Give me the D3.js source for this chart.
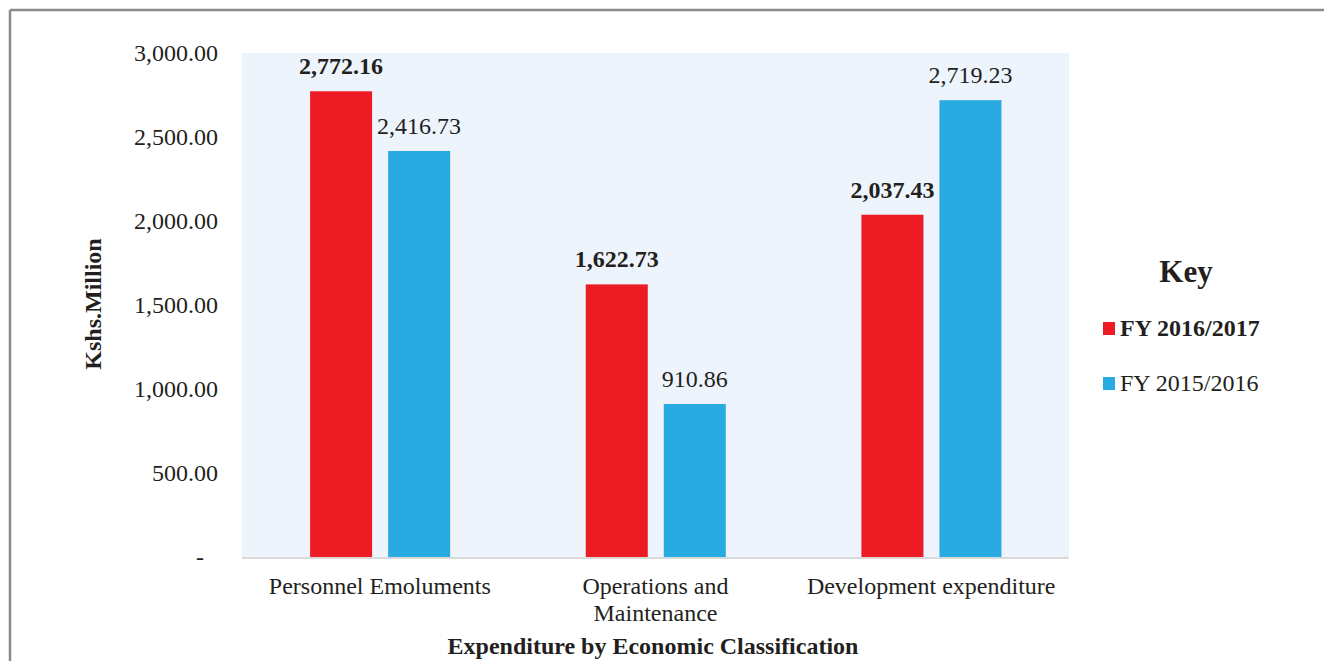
<!DOCTYPE html>
<html><head><meta charset="utf-8">
<script src="https://cdn.jsdelivr.net/npm/d3@7"></script>
<style>
html,body{margin:0;padding:0;background:#fff;}
text{font-family:"Liberation Serif","Times New Roman",serif;fill:#231f20;}
</style></head>
<body>
<svg id="c" width="1324" height="661"></svg>
<script>
const categories = ["Personnel Emoluments", "Operations and Maintenance", "Development expenditure"];
const categoryLines = [["Personnel Emoluments"], ["Operations and", "Maintenance"], ["Development expenditure"]];
const seriesNames = ["FY 2016/2017", "FY 2015/2016"];
const fy2016_17 = [2772.16, 1622.73, 2037.43];
const fy2015_16 = [2416.73, 910.86, 2719.23];
const yTicks = [0, 500, 1000, 1500, 2000, 2500, 3000];
const colors = ["#ed1c24", "#29abe2"];

const svg = d3.select("#c");
const plot = {left: 242, right: 1069, top: 53, bottom: 557};
const fs = 24;

// frame
svg.append("line").attr("x1",10).attr("y1",10).attr("x2",1324).attr("y2",10).attr("stroke","#8a8a8a").attr("stroke-width",2.5);
svg.append("line").attr("x1",10).attr("y1",10).attr("x2",10).attr("y2",661).attr("stroke","#8a8a8a").attr("stroke-width",2.5);

// plot background
svg.append("rect").attr("x",plot.left).attr("y",plot.top).attr("width",plot.right-plot.left).attr("height",plot.bottom-plot.top).attr("fill","#eef4fc");

const y = d3.scaleLinear().domain([0,3000]).range([plot.bottom, plot.top]);
const x = d3.scaleBand().domain(categories).range([plot.left, plot.right]).padding(0);
const bw = x.bandwidth();
const xs = d3.scaleBand().domain(seriesNames).range([bw*0.247, bw*0.755]).paddingInner(0.205).paddingOuter(0);

const series = [fy2016_17, fy2015_16];
const rows = [];
categories.forEach((c,i)=>seriesNames.forEach((s,j)=>rows.push({c, s, j, v: series[j][i]})));

// bars
svg.append("g").selectAll("rect").data(rows).join("rect")
  .attr("x", d=>x(d.c)+xs(d.s))
  .attr("width", xs.bandwidth())
  .attr("y", d=>y(d.v))
  .attr("height", d=>y(0)-y(d.v))
  .attr("fill", d=>colors[d.j]);

// value labels
svg.append("g").selectAll("text").data(rows).join("text")
  .attr("x", d=>x(d.c)+xs(d.s)+xs.bandwidth()/2)
  .attr("y", d=>y(d.v)-17)
  .attr("text-anchor","middle")
  .attr("font-size",fs)
  .attr("font-weight", d=>d.j===0?"bold":"normal")
  .text(d=>d3.format(",.2f")(d.v));

// baseline
svg.append("line").attr("x1",plot.left).attr("x2",plot.right).attr("y1",y(0)+1).attr("y2",y(0)+1).attr("stroke","#d9d9d9").attr("stroke-width",2);

// y axis
const yAxis = d3.axisLeft(y).tickValues(yTicks).tickSize(0).tickPadding(0)
  .tickFormat(d=> d===0 ? "-" : d3.format(",.2f")(d));
const gy = svg.append("g").attr("transform",`translate(218,0)`).call(yAxis);
gy.select(".domain").remove();
gy.selectAll("text").attr("font-size",fs).attr("font-family","Liberation Serif").attr("fill","#231f20")
  .attr("dy","0.32em")
  .attr("dx", d=> d===0 ? -14 : 0);

// x axis
const xAxis = d3.axisBottom(x).tickSize(0).tickFormat("");
const gx = svg.append("g").attr("transform",`translate(0,${plot.bottom})`).call(xAxis);
gx.select(".domain").remove();
gx.selectAll(".tick").each(function(d,i){
  const t = d3.select(this).append("text").attr("text-anchor","middle").attr("font-size",fs)
    .attr("font-family","Liberation Serif").attr("fill","#231f20");
  categoryLines[i].forEach((ln,k)=>t.append("tspan").attr("x",0).attr("y",37+k*27).text(ln));
});

// axis titles
svg.append("text").attr("x",653).attr("y",654).attr("text-anchor","middle").attr("font-size",fs).attr("font-weight","bold")
  .text("Expenditure by Economic Classification");
svg.append("text").attr("transform","translate(101,304) rotate(-90)").attr("text-anchor","middle").attr("font-size",fs).attr("font-weight","bold")
  .text("Kshs.Million");

// legend
svg.append("text").attr("x",1186).attr("y",282).attr("text-anchor","middle").attr("font-size",31).attr("font-weight","bold").text("Key");
const lg = svg.append("g").selectAll("g").data(seriesNames).join("g")
  .attr("transform",(d,i)=>`translate(1103,${322+i*55})`);
lg.append("rect").attr("width",12).attr("height",13).attr("fill",(d,i)=>colors[i]);
lg.append("text").attr("x",17).attr("y",14).attr("font-size",fs).attr("font-weight",(d,i)=>i===0?"bold":"normal").text(d=>d);
</script>
</body></html>
